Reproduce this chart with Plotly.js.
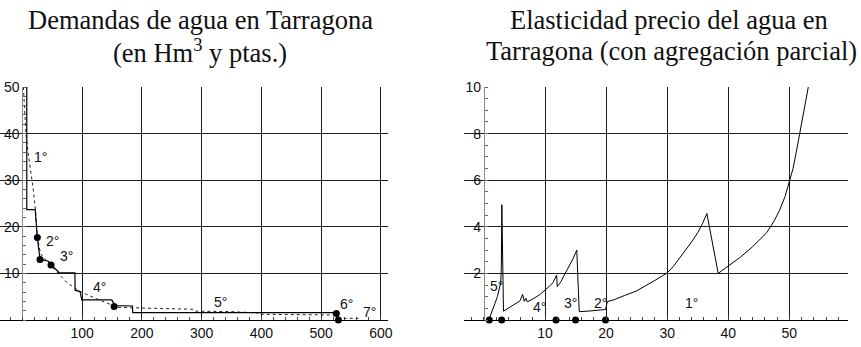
<!DOCTYPE html>
<html>
<head>
<meta charset="utf-8">
<script src="https://cdn.plot.ly/plotly-3.0.1.min.js"></script>
<style>html,body{margin:0;padding:0;background:#fff;}#chart{width:861px;height:347px;}</style>
</head>
<body>
<div id="chart"></div>
<script>
// ---------- Left chart: Demandas de agua en Tarragona ----------
const demandSolidX = [7.4, 7.4, 21.5, 23.5, 25.1, 29.6, 43.6, 48, 53.6, 60.3, 60.3, 88, 88.3, 96.6, 99.5, 149.7, 155.3, 184.3, 184.8, 524, 525.5, 529];
const demandSolidY = [50, 23.7, 23.7, 20.5, 17.7, 13.0, 12.6, 11.8, 11.1, 10.4, 10.1, 10.1, 6.4, 6.1, 4.3, 4.3, 3.1, 3.0, 1.6, 1.6, 1.4, 0];
const demandDashX = [1.7, 3.5, 6, 9, 12.9, 18.4, 22.4, 25.1, 30.5, 40, 48, 60, 75, 96.6, 125, 153.6, 160, 286.4, 290, 348, 398, 400, 459, 461, 521, 526, 529, 562.8];
const demandDashY = [50, 44.4, 40, 36.5, 32.9, 27.9, 23, 17.7, 14.2, 12.8, 11.8, 10, 8, 6.1, 4.5, 2.9, 2.7, 2.3, 1.9, 1.8, 1.5, 1.22, 1.22, 1.07, 1.07, 0.6, 0.36, 0.36];
const demandPtsX = [25.1, 29.6, 48, 153.6, 525.5, 529];
const demandPtsY = [17.7, 13.0, 11.8, 2.9, 1.4, 0];
const demandLblText = ["1°", "2°", "3°", "4°", "5°", "6°", "7°"];
const demandLblX = [29.6, 51, 74.4, 129, 331, 541.7, 580.7];
const demandLblY = [35, 17, 13.7, 7, 3.9, 3.4, 1.8];
const demandXTicks = [100, 200, 300, 400, 500, 600];
const demandYTicks = [10, 20, 30, 40, 50];
const demandXRange = [-37.4, 612];
const demandYRange = [0, 50];

// ---------- Right chart: Elasticidad precio ----------
const elasX = [0.87, 1.3, 1.8, 2.2, 2.5, 2.75, 2.85, 2.93, 3.2, 4.5, 5.9, 6.33, 6.6, 6.87, 7.1, 8.0, 9.2, 10.5, 11.3, 11.9, 12.0, 12.5, 13.5, 14.6, 15.2, 15.6, 17, 19.9, 20.2, 21.2, 23, 25, 28, 30, 31, 32.1, 33, 34, 35, 35.8, 36.5, 38.35, 40, 42, 44, 45, 46.3, 47.5, 48.4, 49.3, 50.1, 50.6, 51.2, 51.7, 52.4, 53.1];
const elasY = [0.05, 0.4, 0.71, 1.0, 1.29, 1.6, 2.3, 4.95, 0.38, 0.6, 0.82, 1.1, 0.8, 0.93, 0.78, 0.9, 1.1, 1.4, 1.6, 1.93, 1.43, 1.6, 2.07, 2.64, 3.0, 0.36, 0.38, 0.45, 0.79, 0.86, 1.05, 1.25, 1.7, 2.02, 2.3, 2.71, 3.0, 3.35, 3.75, 4.15, 4.57, 2.0, 2.3, 2.7, 3.15, 3.4, 3.75, 4.25, 4.71, 5.3, 6.0, 6.5, 7.3, 8.0, 9.0, 10.0];
const elasPtsX = [0.87, 2.9, 11.8, 15.0, 19.9];
const elasPtsY = [0, 0, 0, 0, 0];
const elasLblText = ["5°", "4°", "3°", "2°", "1°"];
const elasLblX = [2.05, 9.17, 14.1, 19.1, 34.0];
const elasLblY = [1.46, 0.54, 0.71, 0.71, 0.74];
const elasXTicks = [10, 20, 30, 40, 50];
const elasYTicks = [2, 4, 6, 8, 10];
const elasXRange = [-3.2, 59.6];
const elasYRange = [0, 10];

// ---------- layout geometry ----------
const W = 861, H = 347;
const dom1 = [0, 388 / W];
const dom2 = [464.4 / W, 848 / W];
function zeroPos(dom, rng) {
  return dom[0] + (0 - rng[0]) / (rng[1] - rng[0]) * (dom[1] - dom[0]);
}
const tickFont = {family: "Liberation Sans, Arial, sans-serif", size: 14, color: "#111"};
const gridCol = "#1e1e1e";

const traces = [
  {x: demandDashX, y: demandDashY, xaxis: "x", yaxis: "y", mode: "lines",
   line: {color: "#222", width: 1, dash: "3px,3px"}, hoverinfo: "skip"},
  {x: demandSolidX, y: demandSolidY, xaxis: "x", yaxis: "y", mode: "lines",
   line: {color: "#000", width: 1.2}, hoverinfo: "skip"},
  {x: demandPtsX, y: demandPtsY, xaxis: "x", yaxis: "y", mode: "markers",
   marker: {color: "#000", size: 7, symbol: "circle"}, cliponaxis: false, hoverinfo: "skip"},
  {x: elasX, y: elasY, xaxis: "x2", yaxis: "y2", mode: "lines",
   line: {color: "#000", width: 1}, hoverinfo: "skip"},
  {x: elasPtsX, y: elasPtsY, xaxis: "x2", yaxis: "y2", mode: "markers",
   marker: {color: "#000", size: 7, symbol: "circle"}, cliponaxis: false, hoverinfo: "skip"}
];

const annotations = [];
demandLblText.forEach((t, i) => annotations.push({
  x: demandLblX[i], y: demandLblY[i], xref: "x", yref: "y", text: t, showarrow: false,
  font: tickFont, xanchor: "center", yanchor: "middle"}));
elasLblText.forEach((t, i) => annotations.push({
  x: elasLblX[i], y: elasLblY[i], xref: "x2", yref: "y2", text: t, showarrow: false,
  font: tickFont, xanchor: "center", yanchor: "middle"}));

const titleFont = {family: "Liberation Serif, Times New Roman, serif", size: 26.5, color: "#111"};
const plotTop = 87, plotBot = 320;
function py(p) { return 1 + (plotTop - p) / (plotBot - plotTop); }
annotations.push({xref: "paper", yref: "paper", x: 200 / W, y: py(20), text: "Demandas de agua en Tarragona",
  showarrow: false, font: titleFont, xanchor: "center", yanchor: "middle"});
annotations.push({xref: "paper", yref: "paper", x: 200 / W, y: py(51), text: "(en Hm<sup>3</sup> y ptas.)",
  showarrow: false, font: titleFont, xanchor: "center", yanchor: "middle"});
annotations.push({xref: "paper", yref: "paper", x: 669 / W, y: py(20), text: "Elasticidad precio del agua en",
  showarrow: false, font: titleFont, xanchor: "center", yanchor: "middle"});
annotations.push({xref: "paper", yref: "paper", x: 671 / W, y: py(51), text: "Tarragona (con agregación parcial)",
  showarrow: false, font: titleFont, xanchor: "center", yanchor: "middle"});

function xAxis(dom, rng, ticks, minorDt, yanchor) {
  return {domain: dom, range: rng, anchor: yanchor, tickmode: "array", tickvals: ticks,
    showgrid: true, gridcolor: gridCol, gridwidth: 1, zeroline: false, showline: true,
    linecolor: "#000", linewidth: 1, ticks: "", tickfont: tickFont, fixedrange: true,
    minor: {tick0: 0, dtick: minorDt, ticks: "inside", ticklen: 3, tickcolor: "#444", showgrid: false}};
}
function yAxis(rng, ticks, minorDt, pos) {
  return {domain: [0, 1], range: rng, anchor: "free", position: pos, tickmode: "array", tickvals: ticks,
    showgrid: true, gridcolor: gridCol, gridwidth: 1, zeroline: false, showline: true,
    linecolor: "#8a8a8a", linewidth: 1, ticks: "", tickfont: tickFont, fixedrange: true,
    ticklabelstandoff: 0,
    minor: {tick0: 0, dtick: minorDt, ticks: "inside", ticklen: 3, tickcolor: "#666", showgrid: false}};
}

const layout = {
  width: W, height: H,
  margin: {l: 0, r: 0, t: plotTop, b: H - plotBot, pad: 0},
  paper_bgcolor: "#fff", plot_bgcolor: "rgba(0,0,0,0)",
  showlegend: false,
  xaxis: xAxis(dom1, demandXRange, demandXTicks, 20, "y"),
  yaxis: yAxis(demandYRange, demandYTicks, 2, zeroPos(dom1, demandXRange)),
  xaxis2: xAxis(dom2, elasXRange, elasXTicks, 2, "y2"),
  yaxis2: yAxis(elasYRange, elasYTicks, 0.5, zeroPos(dom2, elasXRange)),
  annotations: annotations
};

Plotly.newPlot("chart", traces, layout, {staticPlot: true, displayModeBar: false});
</script>
</body>
</html>
